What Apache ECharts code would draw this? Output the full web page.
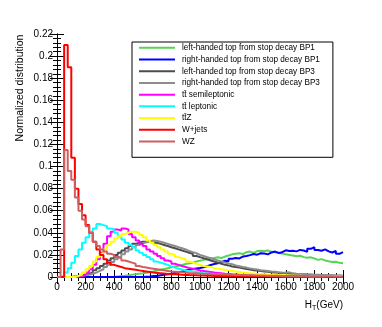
<!DOCTYPE html>
<html>
<head>
<meta charset="utf-8">
<script src="https://cdn.jsdelivr.net/npm/echarts@6/dist/echarts.min.js"></script>
<style>
  html, body { margin: 0; padding: 0; background: #fff; }
  #chart { width: 382px; height: 327px; }
</style>
</head>
<body>
<div id="chart"></div>
<script>
// H_T histograms, 25 GeV bins from 0 to 2000 (80 bins, rows of 10)
var binWidth = 25;
var xTicks = [0, 200, 400, 600, 800, 1000, 1200, 1400, 1600, 1800, 2000];

var names = [
    'left-handed top from stop decay BP1',
    'right-handed top from stop decay BP1',
    'left-handed top from stop decay BP3',
    'right-handed top from stop decay BP3',
    't\u0074\u0304 semileptonic',
    't\u0074\u0304 leptonic',
    't\u0074\u0304Z',
    'W+jets',
    'WZ'
];
var colors = ['#59d454', '#0000ff', '#4d4d4d', '#8c8c8c', '#ff00ff', '#00ffff', '#ffff00', '#ff0000', '#cf5e61'];

var lhBP1 = [
    0, 0, 0, 0, 0, 0, 0, 0, 0, 0,
    0, 0, 0, 0, 0, 0, 0.0005, 0.001, 0.0012, 0.0015,
    0.002, 0.0025, 0.003, 0.0033, 0.0038, 0.0045, 0.005, 0.0058, 0.0065, 0.0072,
    0.008, 0.0088, 0.0095, 0.0102, 0.011, 0.0118, 0.0125, 0.013, 0.014, 0.0148,
    0.0155, 0.016, 0.0165, 0.0172, 0.0178, 0.0172, 0.0185, 0.0195, 0.0205, 0.021,
    0.0215, 0.0208, 0.0225, 0.023, 0.0218, 0.0235, 0.0238, 0.0235, 0.024, 0.0228,
    0.0225, 0.0218, 0.0212, 0.0205, 0.02, 0.0195, 0.0188, 0.0192, 0.018, 0.0175,
    0.0178, 0.0168, 0.0155, 0.0162, 0.015, 0.0142, 0.0135, 0.0138, 0.0128, 0.0125
];
var rhBP1 = [
    0, 0, 0, 0, 0, 0, 0, 0, 0, 0,
    0, 0, 0, 0, 0, 0, 0, 0, 0, 0,
    0, 0, 0, 0, 0.0003, 0.0005, 0.0008, 0.001, 0.0015, 0.002,
    0.0025, 0.003, 0.0037, 0.0043, 0.005, 0.0058, 0.0065, 0.0072, 0.0078, 0.0082,
    0.0088, 0.0098, 0.0108, 0.0118, 0.0125, 0.0135, 0.0148, 0.0142, 0.0165, 0.0172,
    0.0168, 0.0185, 0.019, 0.0198, 0.0208, 0.0202, 0.0215, 0.0212, 0.0205, 0.0222,
    0.023, 0.0218, 0.0225, 0.0242, 0.0235, 0.0238, 0.0232, 0.0245, 0.024, 0.0228,
    0.0255, 0.027, 0.0245, 0.0238, 0.025, 0.0232, 0.0222, 0.0235, 0.021, 0.0225
];
var lhBP3 = [
    0, 0, 0, 0, 0.0005, 0.001, 0.0015, 0.002, 0.003, 0.004,
    0.006, 0.008, 0.01, 0.012, 0.015, 0.017, 0.02, 0.022, 0.024, 0.026,
    0.028, 0.03, 0.031, 0.032, 0.032, 0.0325, 0.031, 0.031, 0.03, 0.029,
    0.028, 0.027, 0.026, 0.025, 0.024, 0.023, 0.022, 0.021, 0.019, 0.018,
    0.017, 0.016, 0.015, 0.014, 0.013, 0.012, 0.011, 0.0105, 0.0095, 0.009,
    0.0085, 0.008, 0.0072, 0.0068, 0.0062, 0.0058, 0.0055, 0.005, 0.0047, 0.0043,
    0.004, 0.0038, 0.0035, 0.0033, 0.003, 0.0028, 0.0026, 0.0024, 0.0023, 0.0021,
    0.002, 0.0018, 0.0017, 0.0016, 0.0015, 0.0014, 0.0013, 0.0012, 0.0011, 0.001
];
var rhBP3 = [
    0, 0, 0, 0, 0.0003, 0.0006, 0.001, 0.0015, 0.002, 0.003,
    0.004, 0.0055, 0.007, 0.009, 0.011, 0.0135, 0.016, 0.018, 0.0205, 0.023,
    0.025, 0.027, 0.029, 0.0305, 0.0315, 0.032, 0.033, 0.0325, 0.032, 0.031,
    0.03, 0.029, 0.028, 0.027, 0.026, 0.025, 0.0235, 0.0225, 0.0215, 0.02,
    0.019, 0.018, 0.017, 0.016, 0.015, 0.014, 0.013, 0.0122, 0.0115, 0.0105,
    0.0098, 0.009, 0.0085, 0.0078, 0.0072, 0.0068, 0.0062, 0.0058, 0.0055, 0.005,
    0.0047, 0.0043, 0.004, 0.0038, 0.0042, 0.0033, 0.003, 0.0028, 0.0026, 0.0024,
    0.0023, 0.0021, 0.002, 0.0018, 0.0017, 0.0016, 0.0015, 0.0014, 0.0013, 0.0012
];
var ttSemi = [
    0, 0, 0, 0, 0, 0.0005, 0.001, 0.002, 0.004, 0.007,
    0.011, 0.016, 0.022, 0.03, 0.037, 0.041, 0.043, 0.042, 0.044, 0.043,
    0.039, 0.036, 0.033, 0.03, 0.028, 0.025, 0.023, 0.021, 0.019, 0.017,
    0.015, 0.014, 0.012, 0.011, 0.01, 0.009, 0.0082, 0.0075, 0.0068, 0.006,
    0.0055, 0.005, 0.0045, 0.004, 0.0037, 0.0033, 0.003, 0.0028, 0.0025, 0.0023,
    0.0021, 0.0019, 0.0017, 0.0016, 0.0014, 0.0013, 0.0012, 0.0011, 0.001, 0.0009,
    0.0008, 0.0008, 0.0007, 0.0007, 0.0006, 0.0006, 0.0005, 0.0005, 0.0005, 0.0004,
    0.0004, 0.0004, 0.0003, 0.0003, 0.0003, 0.0003, 0.0002, 0.0002, 0.0002, 0.0002
];
var ttLep = [
    0, 0.001, 0.004, 0.008, 0.013, 0.019, 0.025, 0.031, 0.036, 0.04,
    0.044, 0.048, 0.047, 0.046, 0.044, 0.043, 0.04, 0.037, 0.034, 0.031,
    0.029, 0.027, 0.024, 0.022, 0.02, 0.018, 0.016, 0.014, 0.013, 0.012,
    0.011, 0.0095, 0.0085, 0.0075, 0.0068, 0.006, 0.0055, 0.005, 0.0045, 0.004,
    0.0035, 0.0032, 0.003, 0.0027, 0.0025, 0.0023, 0.0021, 0.0019, 0.0017, 0.0016,
    0.0015, 0.0014, 0.0013, 0.0012, 0.0011, 0.001, 0.0009, 0.0009, 0.0008, 0.0007,
    0.0007, 0.0006, 0.0006, 0.0005, 0.0005, 0.0005, 0.0004, 0.0004, 0.0004, 0.0003,
    0.0003, 0.0003, 0.0003, 0.0003, 0.0002, 0.0002, 0.0002, 0.0002, 0.0002, 0.0002
];
var ttZ = [
    0, 0, 0, 0, 0, 0.001, 0.002, 0.004, 0.007, 0.01,
    0.014, 0.018, 0.021, 0.025, 0.029, 0.032, 0.035, 0.037, 0.039, 0.04,
    0.041, 0.041, 0.04, 0.038, 0.036, 0.033, 0.031, 0.029, 0.027, 0.025,
    0.023, 0.021, 0.02, 0.018, 0.017, 0.016, 0.014, 0.013, 0.012, 0.011,
    0.01, 0.0095, 0.009, 0.008, 0.0075, 0.007, 0.0065, 0.006, 0.0055, 0.005,
    0.0045, 0.004, 0.0037, 0.0034, 0.0031, 0.0028, 0.0026, 0.0024, 0.0022, 0.002,
    0.0019, 0.0018, 0.0016, 0.0015, 0.0014, 0.0013, 0.0012, 0.0011, 0.001, 0.001,
    0.0009, 0.0009, 0.0008, 0.0008, 0.0007, 0.0007, 0.0006, 0.0006, 0.0006, 0.0005
];
var wjets = [
    0, 0, 0.21, 0.19, 0.108, 0.08, 0.066, 0.056, 0.047, 0.04,
    0.032, 0.025, 0.02, 0.016, 0.013, 0.011, 0.01, 0.009, 0.008, 0.0075,
    0.007, 0.0065, 0.006, 0.0055, 0.005, 0.0045, 0.004, 0.0037, 0.0034, 0.0031,
    0.0028, 0.0026, 0.0024, 0.0022, 0.002, 0.0019, 0.0017, 0.0016, 0.0015, 0.0014,
    0.0013, 0.0012, 0.0011, 0.001, 0.001, 0.0009, 0.0009, 0.0008, 0.0008, 0.0007,
    0.0007, 0.0006, 0.0006, 0.0006, 0.0005, 0.0005, 0.0005, 0.0004, 0.0004, 0.0004,
    0.0004, 0.0003, 0.0003, 0.0003, 0.0003, 0.0003, 0.0002, 0.0002, 0.0002, 0.0002,
    0.0002, 0.0002, 0.0002, 0.0002, 0.0001, 0.0001, 0.0001, 0.0001, 0.0001, 0.0001
];
var wz = [
    0, 0.025, 0.115, 0.096, 0.088, 0.072, 0.06, 0.052, 0.046, 0.04,
    0.032, 0.028, 0.025, 0.023, 0.021, 0.02, 0.018, 0.017, 0.015, 0.014,
    0.013, 0.012, 0.01, 0.009, 0.0085, 0.008, 0.0075, 0.007, 0.0065, 0.006,
    0.0055, 0.005, 0.0048, 0.0045, 0.0042, 0.004, 0.0037, 0.0035, 0.0033, 0.0031,
    0.003, 0.0029, 0.0027, 0.0026, 0.0024, 0.0023, 0.0022, 0.0021, 0.002, 0.0019,
    0.0018, 0.0017, 0.0016, 0.0015, 0.0015, 0.0014, 0.0013, 0.0013, 0.0012, 0.0012,
    0.0011, 0.0011, 0.001, 0.001, 0.0009, 0.0009, 0.0009, 0.0008, 0.0008, 0.0008,
    0.0007, 0.0007, 0.0007, 0.0006, 0.0006, 0.0006, 0.0006, 0.0005, 0.0005, 0.0005
];

var allValues = [lhBP1, rhBP1, lhBP3, rhBP3, ttSemi, ttLep, ttZ, wjets, wz];
var font = "'Liberation Sans', Arial, Helvetica, sans-serif";

// turn bin contents into step outline points
function histPoints(vals) {
    var pts = [[0, 0]];
    for (var i = 0; i < vals.length; i++) {
        var x0 = i * binWidth;
        pts.push([x0, vals[i]]);
        pts.push([x0 + binWidth, vals[i]]);
    }
    return pts;
}

var series = [];
for (var i = 0; i < names.length; i++) {
    series.push({
        name: names[i],
        type: 'line',
        data: histPoints(allValues[i]),
        showSymbol: false,
        symbol: 'none',
        color: colors[i],
        lineStyle: { width: 2, color: colors[i] },
        silent: true,
        clip: true,
        animation: false
    });
}

function axisCommon(extra) {
    var base = {
        type: 'value',
        axisLine: { show: true, lineStyle: { color: '#000', width: 1 } },
        axisTick: { show: true, inside: true, length: 7, lineStyle: { color: '#000', width: 1 } },
        splitLine: { show: false },
        minorSplitLine: { show: false }
    };
    for (var k in extra) base[k] = extra[k];
    return base;
}

var chart = echarts.init(document.getElementById('chart'), null, { renderer: 'canvas' });
chart.setOption({
    backgroundColor: '#fff',
    animation: false,
    grid: { left: 57, right: 39, top: 34, bottom: 50 },
    xAxis: [
        axisCommon({
            position: 'bottom', min: xTicks[0], max: xTicks[xTicks.length - 1], interval: 200,
            minorTick: { show: true, splitNumber: 4, length: 4, lineStyle: { color: '#000', width: 1 } },
            axisLabel: {
                fontSize: 10, color: '#000', fontFamily: font, margin: 5,
                formatter: function (v) { return String(v); }
            },
            name: 'H{s|T}(GeV)',
            nameLocation: 'end',
            nameGap: 0,
            nameTextStyle: {
                fontSize: 10, color: '#000', fontFamily: font,
                align: 'right', verticalAlign: 'top', padding: [22, 0, 0, 0],
                rich: { s: { fontSize: 7, fontFamily: font, color: '#000', padding: [6, 0, 0, 0] } }
            }
        }),
        axisCommon({
            position: 'top', min: xTicks[0], max: xTicks[xTicks.length - 1], interval: 200,
            minorTick: { show: true, splitNumber: 4, length: 4, lineStyle: { color: '#000', width: 1 } },
            axisLabel: { show: false }
        })
    ],
    yAxis: [
        axisCommon({
            position: 'left', min: 0, max: 0.22, interval: 0.02,
            minorTick: { show: true, splitNumber: 5, length: 4, lineStyle: { color: '#000', width: 1 } },
            axisLabel: {
                fontSize: 10, color: '#000', fontFamily: font, margin: 4,
                formatter: function (v) { return String(+v.toFixed(2)); }
            }
        }),
        axisCommon({
            position: 'right', min: 0, max: 0.22, interval: 0.02,
            minorTick: { show: true, splitNumber: 5, length: 4, lineStyle: { color: '#000', width: 1 } },
            axisLabel: { show: false }
        })
    ],
    legend: {
        orient: 'vertical',
        left: 132,
        top: 42,
        itemWidth: 36,
        itemHeight: 2,
        itemGap: 0,
        icon: 'rect',
        padding: [0, 13, 10, 7],
        borderColor: '#000',
        borderWidth: 1,
        backgroundColor: '#fff',
        selectedMode: false,
        textStyle: { fontSize: 8.2, lineHeight: 11.7, color: '#000', fontFamily: font, padding: [0, 0, 0, 2] },
        data: names
    },
    graphic: [{
        type: 'text',
        x: 20,
        y: 88,
        rotation: Math.PI / 2,
        style: {
            text: 'Normalized distribution',
            fontSize: 10.5,
            fontFamily: font,
            fill: '#000',
            align: 'center',
            verticalAlign: 'middle'
        }
    }],
    series: series
});
</script>
</body>
</html>
